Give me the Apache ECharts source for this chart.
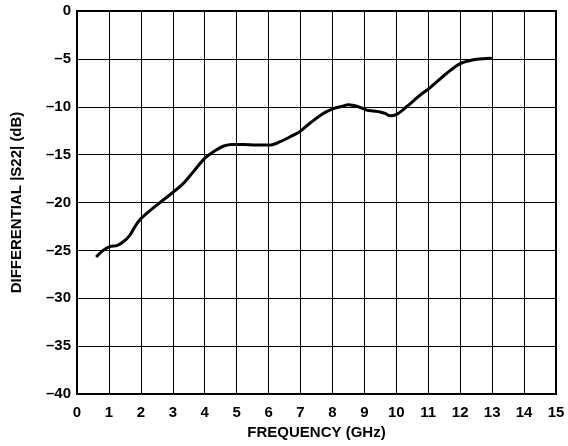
<!DOCTYPE html>
<html>
<head>
<meta charset="utf-8">
<script src="https://cdn.jsdelivr.net/npm/echarts@6/dist/echarts.min.js"></script>
<style>html,body{margin:0;padding:0;background:#fff}#c{width:568px;height:446px}</style>
</head>
<body>
<div id="c"></div>
<script>
var freqGHz = [0.6, 0.82, 1.03, 1.25, 1.45, 1.66, 1.8, 1.97, 2.23, 2.6, 3.02, 3.33, 3.64, 4.0, 4.37, 4.6, 4.85, 5.2, 5.6, 6.04, 6.36, 6.7, 6.98, 7.3, 7.71, 8.03, 8.3, 8.5, 8.81, 9.07, 9.28, 9.49, 9.65, 9.8, 10.01, 10.32, 10.74, 11.06, 11.58, 12.0, 12.41, 12.7, 12.99];
var s22dB = [-25.7, -25.0, -24.6, -24.5, -24.1, -23.4, -22.6, -21.8, -21.0, -20.0, -18.9, -18.0, -16.8, -15.4, -14.5, -14.1, -13.95, -13.95, -14.0, -14.0, -13.65, -13.1, -12.6, -11.7, -10.7, -10.2, -9.95, -9.8, -10.0, -10.35, -10.45, -10.55, -10.7, -10.95, -10.8, -10.0, -8.8, -8.0, -6.5, -5.5, -5.1, -4.98, -4.94];
var xTicks = [0,1,2,3,4,5,6,7,8,9,10,11,12,13,14,15];
var yTicks = [0,-5,-10,-15,-20,-25,-30,-35,-40];

var chart = echarts.init(document.getElementById('c'));
var font = 'Liberation Sans, Arial, sans-serif';
chart.setOption({
  animation: false,
  grid: {left: 77, right: 12, top: 11, bottom: 52, show: true, borderColor: '#000', borderWidth: 2,
    containLabel: false, outerBoundsMode: 'none'},
  xAxis: {
    type: 'value', min: 0, max: 15, interval: 1,
    name: 'FREQUENCY (GHz)', nameLocation: 'middle', nameGap: 31,
    nameTextStyle: {fontFamily: font, fontWeight: 'bold', fontSize: 15, color: '#000'},
    axisLine: {show: false}, axisTick: {show: false},
    axisLabel: {fontFamily: font, fontWeight: 'bold', fontSize: 15, color: '#000', margin: 11,
      formatter: function(v){ return xTicks.indexOf(v) >= 0 ? String(v) : ''; }},
    splitLine: {show: true, lineStyle: {color: '#000', width: 1}}
  },
  yAxis: {
    type: 'value', min: -40, max: 0, interval: 5,
    name: 'DIFFERENTIAL |S22| (dB)', nameLocation: 'middle', nameGap: 53,
    nameTextStyle: {fontFamily: font, fontWeight: 'bold', fontSize: 15, color: '#000'},
    axisLine: {show: false}, axisTick: {show: false},
    axisLabel: {fontFamily: font, fontWeight: 'bold', fontSize: 15, color: '#000', margin: 6,
      formatter: function(v){ return yTicks.indexOf(v) >= 0 ? String(v).replace('-', '\u2013') : ''; }},
    splitLine: {show: true, lineStyle: {color: '#000', width: 1}}
  },
  series: [{
    type: 'line', showSymbol: false, smooth: 0.3,
    data: freqGHz.map(function(f, i){ return [f, s22dB[i]]; }),
    lineStyle: {color: '#000', width: 3}
  }]
});
</script>
</body>
</html>
